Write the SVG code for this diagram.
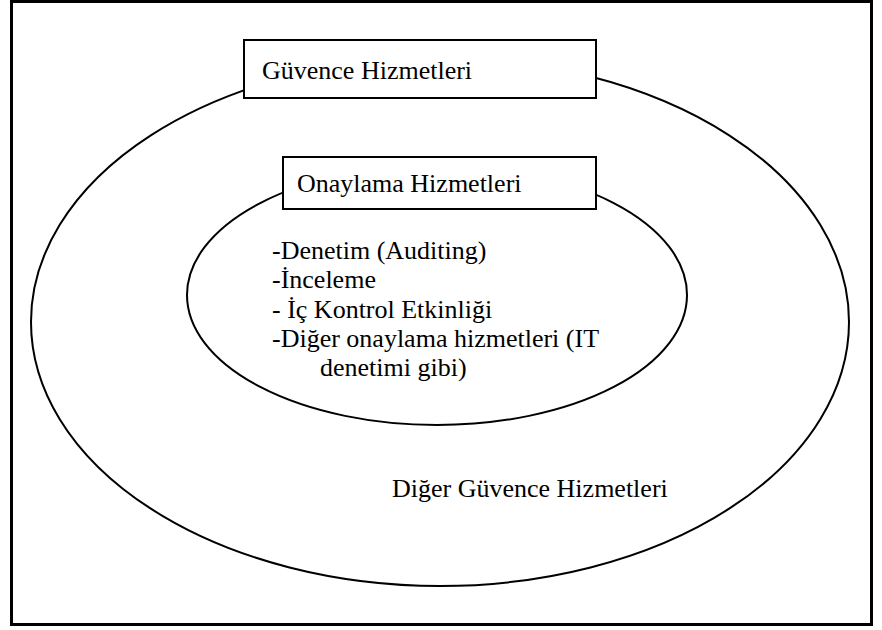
<svg xmlns="http://www.w3.org/2000/svg" width="882" height="630" viewBox="0 0 882 630">
<style>
.t{font-family:"Liberation Serif","Times New Roman",serif;font-size:26px;fill:#000}
.e{fill:none;stroke:#000;stroke-width:2}
.b{fill:#fff;stroke:#000;stroke-width:2}
</style>
<rect x="0" y="0" width="882" height="630" fill="#fff"/>
<rect x="11.5" y="1.5" width="860" height="623" fill="none" stroke="#000" stroke-width="3"/>
<g id="outer">
<ellipse class="e" cx="440" cy="322" rx="409" ry="264"/>
</g>
<g id="inner">
<ellipse class="e" cx="437" cy="295" rx="250" ry="130"/>
</g>
<g id="guvence">
<rect class="b" x="244" y="40" width="352" height="58"/>
<text class="t" x="262" y="79">Güvence Hizmetleri</text>
</g>
<g id="onaylama">
<rect class="b" x="283" y="157" width="313" height="52"/>
<text class="t" x="297" y="192">Onaylama Hizmetleri</text>
</g>
<g id="list">
<text class="t" x="272" y="259">-Denetim (Auditing)</text>
<text class="t" x="272" y="288">-İnceleme</text>
<text class="t" x="272" y="318">- İç Kontrol Etkinliği</text>
<text class="t" x="272" y="347">-Diğer onaylama hizmetleri (IT</text>
<text class="t" x="320" y="376">denetimi gibi)</text>
</g>
<g id="diger">
<text class="t" x="392" y="497">Diğer Güvence Hizmetleri</text>
</g>
<g id="connectors"/>
</svg>
